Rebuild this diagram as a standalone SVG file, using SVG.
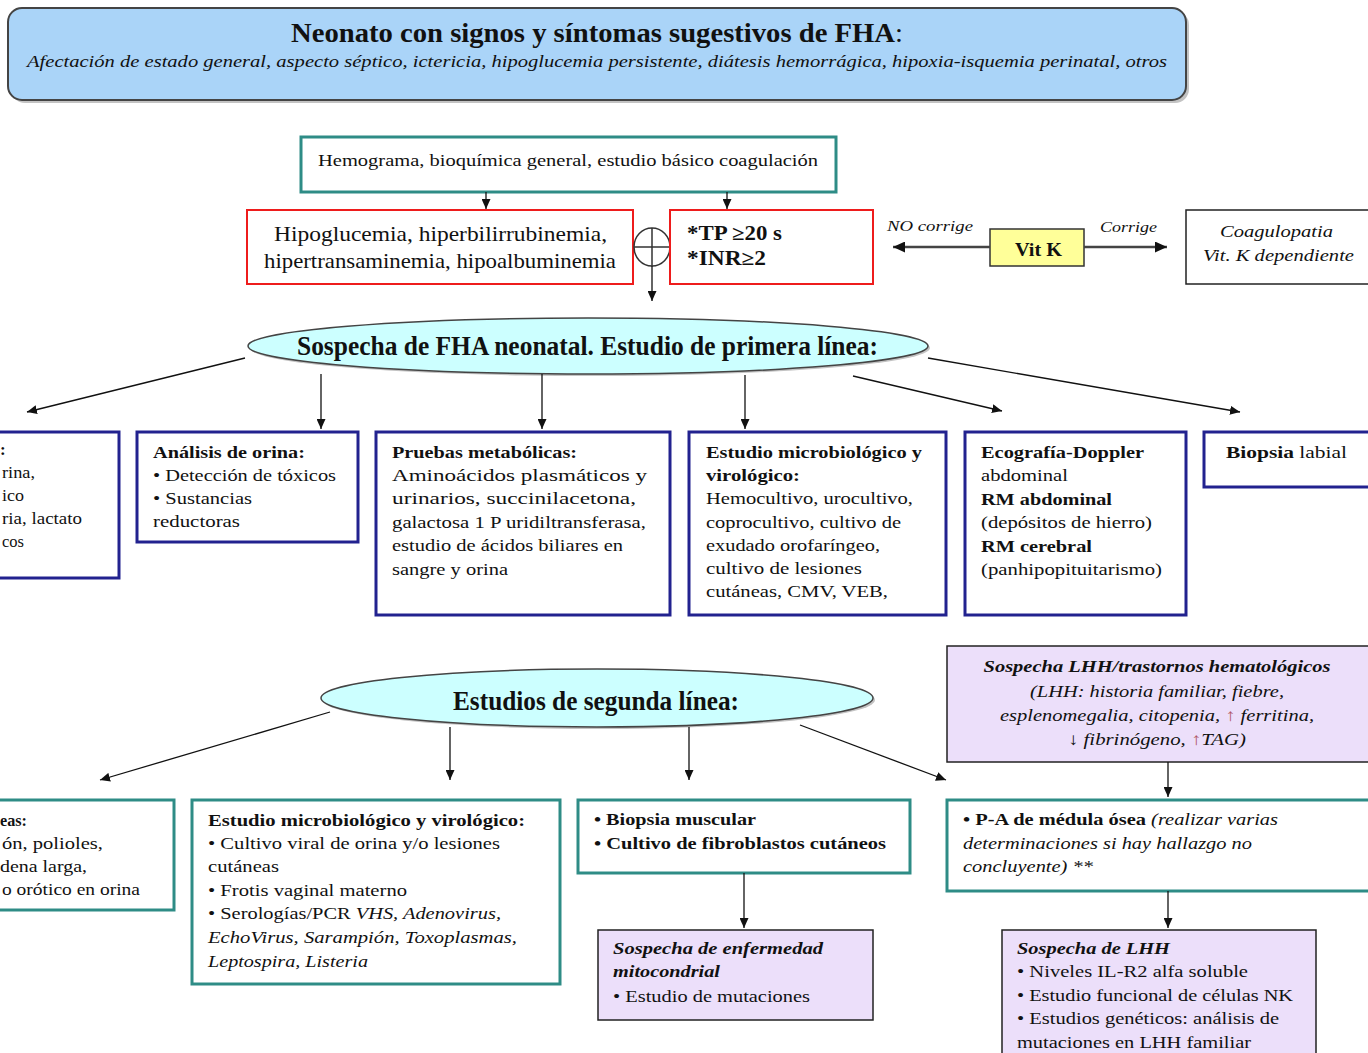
<svg xmlns="http://www.w3.org/2000/svg" width="1368" height="1053" viewBox="0 0 1368 1053">
<style>
text{font-family:"Liberation Serif","Times New Roman",serif;fill:#111}
.b{font-weight:bold}
.i{font-style:italic}
.t17{font-size:17px}
.navy{fill:#fff;stroke:#22228f;stroke-width:3}
.teal{fill:#fff;stroke:#2e8c86;stroke-width:3}
.red{fill:#fff;stroke:#ee1c1c;stroke-width:2}
.lav{fill:#ecdffa;stroke:#222;stroke-width:1.5}
.ell{fill:#ccffff;stroke:#444;stroke-width:1.5}
.con{fill:none;stroke:#111;stroke-width:1.3;marker-end:url(#ah)}
.vk{fill:none;stroke:#444;stroke-width:2.5;marker-end:url(#ah2)}
.sh{fill:#888;opacity:0.5}
.ar{fill:#b05868}
</style>
<defs>
<marker id="ah" markerUnits="userSpaceOnUse" markerWidth="11" markerHeight="9" refX="10" refY="4.5" orient="auto"><path d="M0,0 L10,4.5 L0,9 z" fill="#111"/></marker>
<marker id="ah2" markerUnits="userSpaceOnUse" markerWidth="13" markerHeight="11" refX="12" refY="5.5" orient="auto"><path d="M0,0 L12,5.5 L0,11 z" fill="#111"/></marker>
</defs>

<g id="header">
<rect class="sh" x="11" y="11" width="1178" height="92" rx="14"/>
<rect x="8" y="8" width="1178" height="92" rx="14" fill="#aad4f8" stroke="#444" stroke-width="2"/>
<text x="291" y="42" font-size="28" textLength="612" lengthAdjust="spacingAndGlyphs"><tspan class="b">Neonato con signos y síntomas sugestivos de FHA</tspan>:</text>
<text x="27" y="67" class="i" font-size="17" textLength="1140" lengthAdjust="spacingAndGlyphs">Afectación de estado general, aspecto séptico, ictericia, hipoglucemia persistente, diátesis hemorrágica, hipoxia-isquemia perinatal, otros</text>
</g>

<g id="hemograma">
<rect class="teal" x="301" y="137" width="535" height="55"/>
<text x="318" y="166" font-size="16" textLength="500" lengthAdjust="spacingAndGlyphs">Hemograma, bioquímica general, estudio básico coagulación</text>
</g>

<g id="hipoglucemia">
<rect class="red" x="247" y="210" width="386" height="74"/>
<text x="274" y="241" font-size="21" textLength="333" lengthAdjust="spacingAndGlyphs">Hipoglucemia, hiperbilirrubinemia,</text>
<text x="264" y="268" font-size="21" textLength="352" lengthAdjust="spacingAndGlyphs">hipertransaminemia, hipoalbuminemia</text>
</g>

<g id="union">
<ellipse cx="652" cy="247" rx="18" ry="19" fill="#fff" stroke="#333" stroke-width="1.5"/>
<path d="M634,247 H670 M652,228 V266" stroke="#333" stroke-width="1.5"/>
</g>

<g id="tp">
<rect class="red" x="670" y="210" width="203" height="74"/>
<text x="687" y="240" class="b" font-size="20" textLength="95" lengthAdjust="spacingAndGlyphs">*TP ≥20 s</text>
<text x="687" y="265" class="b" font-size="20" textLength="79" lengthAdjust="spacingAndGlyphs">*INR≥2</text>
</g>

<g id="vitk">
<rect x="990" y="229" width="94" height="37" fill="#ffff99" stroke="#333" stroke-width="1.5"/>
<text x="1015" y="256" class="b" font-size="18" textLength="47" lengthAdjust="spacingAndGlyphs">Vit K</text>
</g>

<g id="coagulopatia">
<rect x="1186" y="210" width="200" height="74" fill="#fff" stroke="#222" stroke-width="1.5"/>
<text x="1220" y="237" class="i" font-size="17" textLength="113" lengthAdjust="spacingAndGlyphs">Coagulopatia</text>
<text x="1203" y="261" class="i" font-size="17" textLength="151" lengthAdjust="spacingAndGlyphs">Vit. K dependiente</text>
</g>

<g id="primera">
<ellipse class="sh" cx="590" cy="348" rx="340" ry="28"/>
<ellipse class="ell" cx="588" cy="346" rx="340" ry="28"/>
<text x="297" y="355" class="b" font-size="27" textLength="581" lengthAdjust="spacingAndGlyphs">Sospecha de FHA neonatal. Estudio de primera línea:</text>
</g>

<g id="boxA">
<rect class="navy" x="-10" y="432" width="129" height="146"/>
<text class="t17 b" x="0" y="455">:</text>
<text class="t17" x="2" y="478" textLength="33" lengthAdjust="spacingAndGlyphs">rina,</text>
<text class="t17" x="2" y="501" textLength="22" lengthAdjust="spacingAndGlyphs">ico</text>
<text class="t17" x="2" y="524" textLength="80" lengthAdjust="spacingAndGlyphs">ria, lactato</text>
<text class="t17" x="2" y="547" textLength="22" lengthAdjust="spacingAndGlyphs">cos</text>
</g>

<g id="orina">
<rect class="navy" x="137" y="432" width="221" height="110"/>
<text class="t17 b" x="153" y="458" textLength="152" lengthAdjust="spacingAndGlyphs">Análisis de orina:</text>
<text class="t17" x="153" y="481" textLength="183" lengthAdjust="spacingAndGlyphs">• Detección de tóxicos</text>
<text class="t17" x="153" y="504" textLength="99" lengthAdjust="spacingAndGlyphs">• Sustancias</text>
<text class="t17" x="153" y="527" textLength="87" lengthAdjust="spacingAndGlyphs">reductoras</text>
</g>

<g id="metabolicas">
<rect class="navy" x="376" y="432" width="294" height="183"/>
<text class="t17 b" x="392" y="458" textLength="185" lengthAdjust="spacingAndGlyphs">Pruebas metabólicas:</text>
<text class="t17" x="392" y="481" textLength="255" lengthAdjust="spacingAndGlyphs">Aminoácidos plasmáticos y</text>
<text class="t17" x="392" y="504" textLength="244" lengthAdjust="spacingAndGlyphs">urinarios, succinilacetona,</text>
<text class="t17" x="392" y="528" textLength="254" lengthAdjust="spacingAndGlyphs">galactosa 1 P uridiltransferasa,</text>
<text class="t17" x="392" y="551" textLength="231" lengthAdjust="spacingAndGlyphs">estudio de ácidos biliares en</text>
<text class="t17" x="392" y="575" textLength="116" lengthAdjust="spacingAndGlyphs">sangre y orina</text>
</g>

<g id="microbio1">
<rect class="navy" x="689" y="432" width="257" height="183"/>
<text class="t17 b" x="706" y="458" textLength="216" lengthAdjust="spacingAndGlyphs">Estudio microbiológico y</text>
<text class="t17 b" x="706" y="481" textLength="94" lengthAdjust="spacingAndGlyphs">virológico:</text>
<text class="t17" x="706" y="504" textLength="207" lengthAdjust="spacingAndGlyphs">Hemocultivo, urocultivo,</text>
<text class="t17" x="706" y="528" textLength="195" lengthAdjust="spacingAndGlyphs">coprocultivo, cultivo de</text>
<text class="t17" x="706" y="551" textLength="174" lengthAdjust="spacingAndGlyphs">exudado orofaríngeo,</text>
<text class="t17" x="706" y="574" textLength="156" lengthAdjust="spacingAndGlyphs">cultivo de lesiones</text>
<text class="t17" x="706" y="597" textLength="182" lengthAdjust="spacingAndGlyphs">cutáneas, CMV,  VEB,</text>
</g>

<g id="imagen">
<rect class="navy" x="965" y="432" width="221" height="183"/>
<text class="t17 b" x="981" y="458" textLength="163" lengthAdjust="spacingAndGlyphs">Ecografía-Doppler</text>
<text class="t17" x="981" y="481" textLength="87" lengthAdjust="spacingAndGlyphs">abdominal</text>
<text class="t17 b" x="981" y="505" textLength="131" lengthAdjust="spacingAndGlyphs">RM abdominal</text>
<text class="t17" x="981" y="528" textLength="171" lengthAdjust="spacingAndGlyphs">(depósitos de hierro)</text>
<text class="t17 b" x="981" y="552" textLength="111" lengthAdjust="spacingAndGlyphs">RM cerebral</text>
<text class="t17" x="981" y="575" textLength="181" lengthAdjust="spacingAndGlyphs">(panhipopituitarismo)</text>
</g>

<g id="biopsia">
<rect class="navy" x="1204" y="432" width="180" height="55"/>
<text class="t17" x="1226" y="458" textLength="121" lengthAdjust="spacingAndGlyphs"><tspan class="b">Biopsia</tspan>  labial</text>
</g>

<g id="segunda">
<ellipse class="sh" cx="599" cy="700" rx="276" ry="29"/>
<ellipse class="ell" cx="597" cy="698" rx="276" ry="29"/>
<text x="453" y="710" class="b" font-size="27" textLength="286" lengthAdjust="spacingAndGlyphs">Estudios de segunda línea:</text>
</g>

<g id="lhhSospecha">
<rect class="lav" x="947" y="646" width="440" height="116"/>
<text x="1157" y="672" text-anchor="middle" class="t17 b i" textLength="347" lengthAdjust="spacingAndGlyphs">Sospecha LHH/trastornos hematológicos</text>
<text x="1157" y="697" text-anchor="middle" class="t17 i" textLength="254" lengthAdjust="spacingAndGlyphs">(LHH: historia familiar, fiebre,</text>
<text x="1157" y="721" text-anchor="middle" class="t17 i" textLength="314" lengthAdjust="spacingAndGlyphs">esplenomegalia, citopenia, <tspan class="ar">↑</tspan> ferritina,</text>
<text x="1157" y="745" text-anchor="middle" class="t17 i" textLength="178" lengthAdjust="spacingAndGlyphs">↓ fibrinógeno, <tspan class="ar">↑</tspan>TAG)</text>
</g>

<g id="boxG">
<rect class="teal" x="-10" y="800" width="184" height="110"/>
<text class="t17 b" x="0" y="826" textLength="27" lengthAdjust="spacingAndGlyphs">eas:</text>
<text class="t17" x="2" y="849" textLength="101" lengthAdjust="spacingAndGlyphs">ón, polioles,</text>
<text class="t17" x="0" y="872" textLength="87" lengthAdjust="spacingAndGlyphs">dena larga,</text>
<text class="t17" x="2" y="895" textLength="138" lengthAdjust="spacingAndGlyphs">o orótico en orina</text>
</g>

<g id="microbio2">
<rect class="teal" x="192" y="800" width="368" height="184"/>
<text class="t17 b" x="208" y="826" textLength="317" lengthAdjust="spacingAndGlyphs">Estudio microbiológico y virológico:</text>
<text class="t17" x="208" y="849" textLength="292" lengthAdjust="spacingAndGlyphs">• Cultivo viral de orina y/o lesiones</text>
<text class="t17" x="208" y="872" textLength="71" lengthAdjust="spacingAndGlyphs">cutáneas</text>
<text class="t17" x="208" y="896" textLength="199" lengthAdjust="spacingAndGlyphs">• Frotis vaginal materno</text>
<text class="t17" x="208" y="919" textLength="293" lengthAdjust="spacingAndGlyphs">• Serologías/PCR <tspan class="i">VHS, Adenovirus,</tspan></text>
<text class="t17 i" x="208" y="943" textLength="309" lengthAdjust="spacingAndGlyphs">EchoVirus, Sarampión, Toxoplasmas,</text>
<text class="t17 i" x="208" y="967" textLength="160" lengthAdjust="spacingAndGlyphs">Leptospira, Listeria</text>
</g>

<g id="biopsiaMuscular">
<rect class="teal" x="578" y="800" width="332" height="73"/>
<text class="t17 b" x="594" y="825" textLength="162" lengthAdjust="spacingAndGlyphs">• Biopsia muscular</text>
<text class="t17 b" x="594" y="849" textLength="292" lengthAdjust="spacingAndGlyphs">• Cultivo de fibroblastos cutáneos</text>
</g>

<g id="mitocondrial">
<rect class="lav" x="598" y="930" width="275" height="90"/>
<text class="t17 b i" x="613" y="954" textLength="210" lengthAdjust="spacingAndGlyphs">Sospecha de enfermedad</text>
<text class="t17 b i" x="613" y="977" textLength="107" lengthAdjust="spacingAndGlyphs">mitocondrial</text>
<text class="t17" x="613" y="1002" textLength="197" lengthAdjust="spacingAndGlyphs">• Estudio de mutaciones</text>
</g>

<g id="medula">
<rect class="teal" x="947" y="800" width="440" height="91"/>
<text class="t17" x="963" y="825" textLength="315" lengthAdjust="spacingAndGlyphs"><tspan class="b">• P-A de médula  ósea</tspan> <tspan class="i">(realizar varias</tspan></text>
<text class="t17 i" x="963" y="849" textLength="289" lengthAdjust="spacingAndGlyphs">determinaciones si  hay hallazgo no</text>
<text class="t17 i" x="963" y="872" textLength="130" lengthAdjust="spacingAndGlyphs">concluyente) **</text>
</g>

<g id="lhh">
<rect class="lav" x="1002" y="930" width="314" height="140"/>
<text class="t17 b i" x="1017" y="954" textLength="153" lengthAdjust="spacingAndGlyphs">Sospecha de LHH</text>
<text class="t17" x="1017" y="977" textLength="231" lengthAdjust="spacingAndGlyphs">• Niveles IL-R2 alfa soluble</text>
<text class="t17" x="1017" y="1001" textLength="276" lengthAdjust="spacingAndGlyphs">• Estudio funcional de células NK</text>
<text class="t17" x="1017" y="1024" textLength="262" lengthAdjust="spacingAndGlyphs">• Estudios genéticos: análisis de</text>
<text class="t17" x="1017" y="1048" textLength="234" lengthAdjust="spacingAndGlyphs">mutaciones en LHH familiar</text>
</g>

<g id="connectors">
<path class="con" d="M486,192 V209"/>
<path class="con" d="M727,192 V209"/>
<path class="con" d="M652,266 V301"/>
<path class="vk" d="M990,247 H893"/>
<path class="vk" d="M1084,247 H1167"/>
<text x="887" y="231" class="i" font-size="15" textLength="86" lengthAdjust="spacingAndGlyphs">NO  corrige</text>
<text x="1100" y="232" class="i" font-size="15" textLength="57" lengthAdjust="spacingAndGlyphs">Corrige</text>
<path class="con" d="M245,358 L27,412"/>
<path class="con" d="M321,374 V429"/>
<path class="con" d="M542,374 V429"/>
<path class="con" d="M745,375 V429"/>
<path class="con" d="M853,376 L1002,411"/>
<path class="con" d="M928,358 L1240,412"/>
<path class="con" d="M330,712 L100,780"/>
<path class="con" d="M450,727 V780"/>
<path class="con" d="M689,727 V780"/>
<path class="con" d="M800,725 L946,780"/>
<path class="con" d="M1168,762 V797"/>
<path class="con" d="M744,873 V928"/>
<path class="con" d="M1168,891 V928"/>
</g>
</svg>
